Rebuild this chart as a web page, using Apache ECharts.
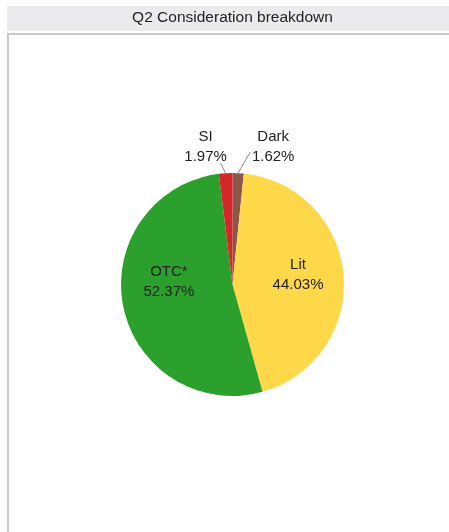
<!DOCTYPE html>
<html>
<head>
<meta charset="utf-8">
<script src="https://cdn.jsdelivr.net/npm/echarts@6/dist/echarts.min.js"></script>
<style>
html,body{margin:0;padding:0;background:#fff;}
#c{width:449px;height:532px;}
</style>
</head>
<body>
<div id="c"></div>
<script>
var titleText = 'Q2 Consideration breakdown';
var categories = ['Dark', 'Lit', 'OTC*', 'SI'];
var values = [1.62, 44.03, 52.37, 1.97];
var colors = ['#8c564b', '#ffd84a', '#2ca02c', '#d62728'];

var labelStyles = {
  'Dark': { outside: true, lineEnd: [12, -21], textPos: [35, -26] },
  'Lit': { outside: false, offset: [7, -5] },
  'OTC*': { outside: false, offset: [-6, -14] },
  'SI': { outside: true, lineEnd: [-5, -10], textPos: [-20, -26] }
};

var data = categories.map(function (name, i) {
  var s = labelStyles[name];
  var item = { name: name, value: values[i], itemStyle: { color: colors[i] } };
  if (s.outside) {
    item.label = { position: 'outside' };
    item.labelLine = { show: true };
  } else {
    item.label = { position: 'inside', offset: s.offset };
    item.labelLine = { show: false };
  }
  return item;
});

var chart = echarts.init(document.getElementById('c'), null, { renderer: 'canvas' });
chart.setOption({
  animation: false,
  backgroundColor: '#ffffff',
  graphic: [
    { type: 'rect', shape: { x: 7, y: 6, width: 442, height: 25 }, style: { fill: '#ebebee' }, silent: true },
    { type: 'rect', shape: { x: 7, y: 33, width: 442, height: 2 }, style: { fill: '#c9c9c9' }, silent: true },
    { type: 'rect', shape: { x: 7, y: 33, width: 2, height: 499 }, style: { fill: '#c9c9c9' }, silent: true },
    { type: 'text', x: 232.5, y: 18, style: { text: titleText, fill: '#222', font: '15.5px "Liberation Sans", Arial, sans-serif', textAlign: 'center', textVerticalAlign: 'middle' }, silent: true }
  ],
  series: [{
    type: 'pie',
    center: [232.5, 284.5],
    radius: [0, 111.5],
    startAngle: 90,
    clockwise: true,
    avoidLabelOverlap: false,
    silent: true,
    label: {
      show: true,
      formatter: function (p) { return p.name + '\n' + p.value.toFixed(2) + '%'; },
      fontFamily: '"Liberation Sans", Arial, sans-serif',
      fontSize: 15,
      lineHeight: 20,
      color: '#222',
      align: 'center'
    },
    labelLine: {
      show: true,
      length: 10,
      length2: 0,
      smooth: false,
      lineStyle: { color: '#8a8a8a', width: 1 }
    },
    labelLayout: function (params) {
      var name = categories[params.dataIndex];
      var s = labelStyles[name];
      if (!s.outside || !params.labelLinePoints) return {};
      var p0 = params.labelLinePoints[0];
      return {
        x: p0[0] + s.textPos[0],
        y: p0[1] + s.textPos[1],
        align: 'center',
        verticalAlign: 'middle',
        labelLinePoints: [[p0[0], p0[1]], [p0[0] + s.lineEnd[0], p0[1] + s.lineEnd[1]], [p0[0] + s.lineEnd[0], p0[1] + s.lineEnd[1]]]
      };
    },
    data: data
  }]
});
</script>
</body>
</html>
